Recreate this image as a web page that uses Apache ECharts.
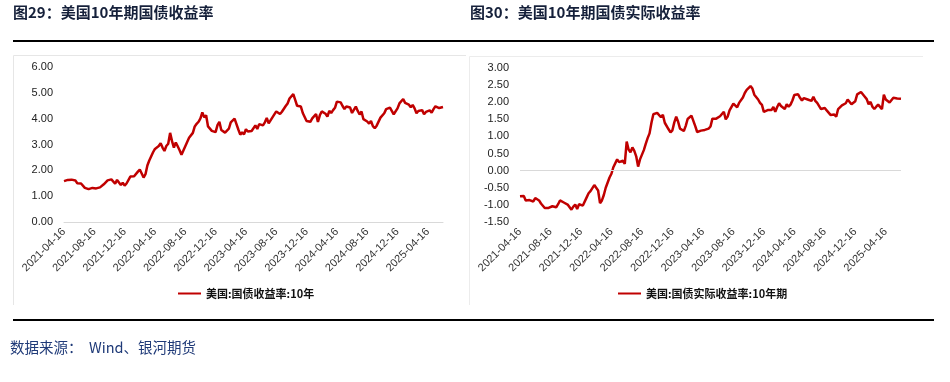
<!DOCTYPE html>
<html>
<head>
<meta charset="utf-8">
<script src="https://cdn.jsdelivr.net/npm/echarts@6/dist/echarts.min.js"></script>
<style>
html,body{margin:0;padding:0;background:#fff;}
#c{width:950px;height:382px;}
</style>
</head>
<body>
<div id="c"></div>
<script>
// ---- data (sampled on the 1st, 8th, 16th and 24th of each month) ----
const sampleDays = [1, 8, 16, 24];
const startDate = '2021-04-16';
const endDate = '2025-06-16';
const tickLabels = ['2021-04-16','2021-08-16','2021-12-16','2022-04-16','2022-08-16','2022-12-16',
  '2023-04-16','2023-08-16','2023-12-16','2024-04-16','2024-08-16','2024-12-16','2025-04-16'];

const nominalName = '美国:国债收益率:10年';
const realName = '美国:国债实际收益率:10年期';

const nominal10y = [
  1.58, 1.56,
  1.63, 1.58, 1.64, 1.60,
  1.61, 1.50, 1.55, 1.49,
  1.45, 1.32, 1.30, 1.27,
  1.22, 1.32, 1.26, 1.30,
  1.31, 1.34, 1.33, 1.46,
  1.49, 1.61, 1.57, 1.65,
  1.58, 1.48, 1.63, 1.64,
  1.43, 1.52, 1.41, 1.49,
  1.52, 1.76, 1.78, 1.77,
  1.80, 1.95, 2.03, 1.96,
  1.72, 1.85, 2.19, 2.38,
  2.39, 2.70, 2.83, 2.90,
  2.94, 3.05, 2.88, 2.75,
  2.94, 3.03, 3.45, 3.13,
  2.88, 3.08, 2.93, 2.78,
  2.60, 2.77, 2.81, 3.10,
  3.26, 3.29, 3.45, 3.70,
  3.80, 3.88, 4.01, 4.24,
  4.05, 4.13, 3.70, 3.71,
  3.53, 3.48, 3.48, 3.75,
  3.88, 3.56, 3.50, 3.46,
  3.39, 3.61, 3.86, 3.88,
  4.00, 3.99, 3.58, 3.38,
  3.47, 3.39, 3.59, 3.50,
  3.44, 3.52, 3.55, 3.74,
  3.60, 3.79, 3.77, 3.74,
  3.86, 4.03, 3.82, 3.87,
  4.05, 4.02, 4.28, 4.24,
  4.18, 4.27, 4.33, 4.49,
  4.59, 4.78, 4.71, 4.95,
  4.73, 4.50, 4.45, 4.47,
  4.22, 4.23, 3.91, 3.89,
  3.88, 4.01, 4.06, 4.18,
  3.87, 4.13, 4.28, 4.30,
  4.19, 4.08, 4.30, 4.22,
  4.33, 4.42, 4.66, 4.65,
  4.63, 4.49, 4.37, 4.47,
  4.50, 4.43, 4.22, 4.23,
  4.47, 4.30, 4.16, 4.28,
  3.98, 3.99, 3.89, 3.81,
  3.91, 3.71, 3.63, 3.73,
  3.74, 4.04, 4.02, 4.21,
  4.37, 4.31, 4.43, 4.41,
  4.17, 4.20, 4.40, 4.59,
  4.57, 4.76, 4.61, 4.62,
  4.54, 4.44, 4.53, 4.40,
  4.21, 4.30, 4.31, 4.33,
  4.17, 4.26, 4.29, 4.32,
  4.23, 4.37, 4.48, 4.51,
  4.41, 4.48, 4.45
];

const real10y = [
  -0.75, -0.78,
  -0.74, -0.87, -0.84, -0.86,
  -0.86, -0.90, -0.80, -0.83,
  -0.87, -0.96, -1.01, -1.09,
  -1.14, -1.09, -1.07, -1.04,
  -1.06, -1.07, -0.98, -0.87,
  -0.87, -0.93, -0.97, -0.99,
  -0.99, -1.14, -1.05, -0.99,
  -1.12, -0.98, -0.97, -1.02,
  -0.97, -0.78, -0.66, -0.60,
  -0.55, -0.42, -0.43, -0.58,
  -0.95, -0.87, -0.71, -0.50,
  -0.47, -0.20, -0.09, 0.10,
  0.10, 0.33, 0.25, 0.21,
  0.29, 0.20, 0.85, 0.62,
  0.54, 0.68, 0.58, 0.42,
  0.12, 0.33, 0.35, 0.60,
  0.78, 0.95, 1.09, 1.40,
  1.65, 1.61, 1.69, 1.66,
  1.56, 1.63, 1.40, 1.37,
  1.21, 1.12, 1.18, 1.41,
  1.58, 1.43, 1.23, 1.22,
  1.16, 1.31, 1.51, 1.49,
  1.61, 1.56, 1.30, 1.13,
  1.17, 1.17, 1.22, 1.19,
  1.22, 1.23, 1.29, 1.52,
  1.49, 1.52, 1.50, 1.59,
  1.63, 1.72, 1.50, 1.58,
  1.76, 1.75, 1.96, 1.91,
  1.85, 1.98, 2.01, 2.14,
  2.27, 2.36, 2.37, 2.47,
  2.40, 2.22, 2.18, 2.08,
  1.98, 1.92, 1.72, 1.71,
  1.77, 1.72, 1.77, 1.86,
  1.72, 1.86, 1.97, 1.89,
  1.84, 1.80, 1.94, 1.87,
  1.93, 2.05, 2.21, 2.24,
  2.23, 2.13, 2.05, 2.12,
  2.14, 2.08, 2.06, 2.04,
  2.16, 2.04, 1.98, 2.03,
  1.80, 1.85, 1.83, 1.76,
  1.74, 1.63, 1.58, 1.64,
  1.58, 1.80, 1.80, 1.91,
  1.96, 1.97, 2.08, 2.12,
  1.94, 1.95, 2.03, 2.23,
  2.20, 2.30, 2.25, 2.16,
  2.09, 1.94, 2.01, 1.87,
  1.80, 1.87, 1.93, 1.98,
  1.80, 2.22, 2.08, 2.12,
  1.99, 2.04, 2.13, 2.18,
  2.11, 2.14, 2.10
];

// ---- build category dates ----
function pad(n){ return n < 10 ? '0' + n : '' + n; }
const dates = [];
for (let y = 2021; y <= 2025; y++) {
  for (let m = 1; m <= 12; m++) {
    for (const d of sampleDays) {
      const s = y + '-' + pad(m) + '-' + pad(d);
      if (s >= startDate && s <= endDate) dates.push(s);
    }
  }
}

const RED = '#c00000';
const LABEL_FONT = '"Liberation Sans", Arial, sans-serif';
const CJK_FONT = '"Noto Sans CJK SC", sans-serif';

function xAxisCfg(gi) {
  return {
    type: 'category', gridIndex: gi, data: dates, boundaryGap: false,
    axisLine: { show: gi === 0, onZero: false, lineStyle: { color: '#d9d9d9', width: 1 } },
    axisTick: { show: false },
    axisLabel: {
      rotate: 45, fontSize: 11, color: '#333', fontFamily: LABEL_FONT, margin: 8,
      interval: function (idx, val) { return tickLabels.indexOf(val) >= 0; }
    },
    splitLine: { show: false }
  };
}
function yAxisCfg(gi, min, max, interval) {
  return {
    type: 'value', gridIndex: gi, min: min, max: max, interval: interval,
    axisLine: { show: false }, axisTick: { show: false }, splitLine: { show: false },
    axisLabel: { fontSize: 11, color: '#222', fontFamily: LABEL_FONT, margin: 11,
      formatter: function (v) { return v.toFixed(2); } }
  };
}

const chart = echarts.init(document.getElementById('c'), null, { renderer: 'canvas' });
chart.setOption({
  animation: false,
  backgroundColor: '#fff',
  grid: [
    { left: 64, right: 507, top: 67, bottom: 160 },
    { left: 520, right: 49, top: 68, bottom: 160 }
  ],
  xAxis: [xAxisCfg(0), xAxisCfg(1)],
  yAxis: [yAxisCfg(0, 0, 6, 1), yAxisCfg(1, -1.5, 3, 0.5)],
  legend: [
    { data: [nominalName], left: 173, top: 283, icon: 'rect', itemWidth: 23, itemHeight: 2, itemGap: 4,
      textStyle: { fontSize: 11, fontWeight: 'bold', color: '#111', fontFamily: CJK_FONT } },
    { data: [realName], left: 613, top: 283, icon: 'rect', itemWidth: 23, itemHeight: 2, itemGap: 4,
      textStyle: { fontSize: 11, fontWeight: 'bold', color: '#111', fontFamily: CJK_FONT } }
  ],
  series: [
    { name: nominalName, type: 'line', xAxisIndex: 0, yAxisIndex: 0, data: nominal10y,
      symbol: 'none', lineStyle: { color: RED, width: 2.5 }, itemStyle: { color: RED } },
    { name: realName, type: 'line', xAxisIndex: 1, yAxisIndex: 1, data: real10y,
      symbol: 'none', lineStyle: { color: RED, width: 2.5 }, itemStyle: { color: RED },
      markLine: { silent: true, symbol: 'none', label: { show: false },
        lineStyle: { color: '#d9d9d9', width: 1, type: 'solid' }, data: [{ yAxis: 0 }] } }
  ],
  graphic: [
    { type: 'text', left: 13, top: 5, style: { text: '图29：美国10年期国债收益率', font: 'bold 15px ' + CJK_FONT, fill: '#15203a' } },
    { type: 'text', left: 470, top: 5, style: { text: '图30：美国10年期国债实际收益率', font: 'bold 15px ' + CJK_FONT, fill: '#15203a' } },
    { type: 'rect', shape: { x: 13, y: 40, width: 921, height: 2 }, style: { fill: '#000' } },
    { type: 'rect', shape: { x: 13, y: 319, width: 921, height: 2 }, style: { fill: '#000' } },
    { type: 'polyline', z: -1, shape: { points: [[13.5, 305], [13.5, 55.5], [466, 55.5]] }, style: { fill: 'none', stroke: '#e6e6e6', lineWidth: 1 } },
    { type: 'polyline', z: -1, shape: { points: [[469.5, 305], [469.5, 56.5], [923, 56.5]] }, style: { fill: 'none', stroke: '#ececec', lineWidth: 1 } },
    { type: 'text', left: 10, top: 340, style: { text: '数据来源：  Wind、银河期货', font: '14.5px ' + CJK_FONT, fill: '#1f3a78' } }
  ]
});
</script>
</body>
</html>
